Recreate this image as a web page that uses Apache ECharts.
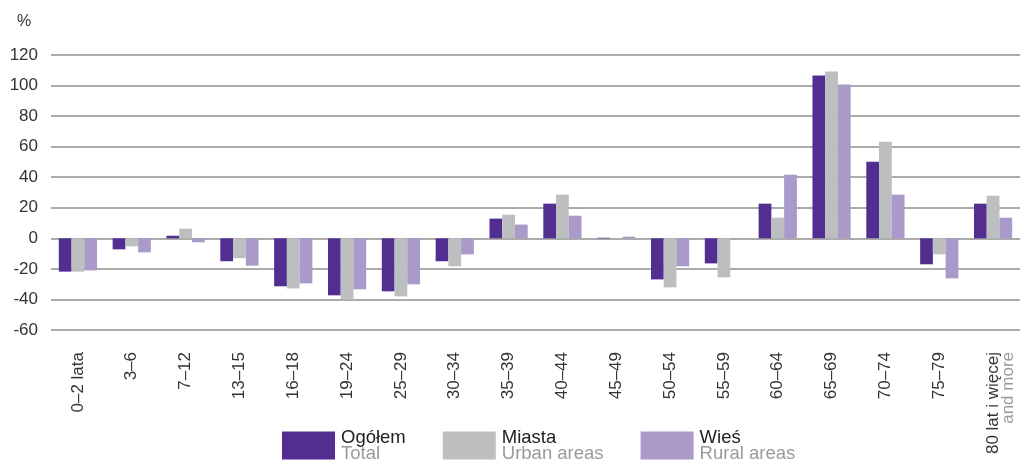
<!DOCTYPE html>
<html>
<head>
<meta charset="utf-8">
<script src="https://cdn.jsdelivr.net/npm/echarts@6/dist/echarts.min.js"></script>
<style>
  html, body { margin: 0; padding: 0; background: #fff; }
  #main { width: 1026px; height: 464px; }
</style>
</head>
<body>
<div id="main"></div>
<script>
var chart = echarts.init(document.getElementById('main'));

// age groups (x axis)
var ageGroups = ['0–2 lata', '3–6', '7–12', '13–15', '16–18', '19–24', '25–29', '30–34', '35–39',
  '40–44', '45–49', '50–54', '55–59', '60–64', '65–69', '70–74', '75–79', '80 lat i więcej'];

// series values, %
var total = [-21.8, -7.2, 1.7, -15, -31.4, -37.3, -34.7, -15, 12.9, 22.7, 0.4, -26.9, -16.4, 22.7, 106.6, 50.2, -17, 22.7];
var urban = [-21.8, -5.2, 6.3, -13, -32.8, -40, -38, -18.3, 15.5, 28.6, 0, -32.1, -25.5, 13.5, 109.2, 63.3, -10.5, 27.9];
var rural = [-21, -9.2, -2.6, -17.9, -29.5, -33.4, -30.1, -10.5, 9, 14.8, 1.1, -18.3, null, 41.7, 100.7, 28.6, -26.2, 13.5];

var seriesNames = ['Ogółem', 'Miasta', 'Wieś'];
var seriesNamesEn = ['Total', 'Urban areas', 'Rural areas'];
var colors = ['#522E91', '#BDBEC0', '#A99AC9'];

function makeBar(i, values) {
  return {
    name: seriesNames[i],
    type: 'bar',
    data: values,
    barGap: '0%',
    barCategoryGap: '29%',
    itemStyle: { color: colors[i] }
  };
}

var option = {
  animation: false,
  textStyle: { fontFamily: 'Liberation Sans, Arial, sans-serif' },
  title: {
    text: '%',
    left: 12,
    top: 9,
    textStyle: { fontSize: 16, fontWeight: 'normal', color: '#333' }
  },
  grid: { left: 51, right: 6, top: 55, bottom: 134, containLabel: false },
  legend: {
    left: 277,
    top: 423,
    itemWidth: 53,
    itemHeight: 28,
    itemGap: 37,
    icon: 'rect',
    selectedMode: false,
    data: seriesNames,
    formatter: function (name) {
      var i = seriesNames.indexOf(name);
      return '{a|' + name + '}\n{b|' + seriesNamesEn[i] + '}';
    },
    textStyle: {
      padding: [0, 0, 0, 1],
      rich: {
        a: { fontFamily: 'Liberation Sans Narrow, Arial Narrow, sans-serif', fontSize: 18.5, color: '#222', lineHeight: 16 },
        b: { fontFamily: 'Liberation Sans Narrow, Arial Narrow, sans-serif', fontSize: 18.5, color: '#9a9a9a', lineHeight: 16 }
      }
    }
  },
  xAxis: {
    type: 'category',
    data: ageGroups,
    axisLine: { show: false, onZero: false },
    axisTick: { show: false },
    axisLabel: {
      rotate: 90,
      margin: 22,
      interval: 0,
      fontSize: 17,
      color: '#333',
      formatter: function (v) {
        // leading empty line nudges the two-line label to the right of the tick
        if (v === '80 lat i więcej') return '{e| }\n{m|' + v + '}\n{g|and more}';
        return v;
      },
      rich: {
        e: { fontSize: 10, lineHeight: 15 },
        m: { fontSize: 17, color: '#333', lineHeight: 15 },
        g: { fontSize: 17, color: '#9a9a9a', lineHeight: 15 }
      }
    }
  },
  yAxis: {
    type: 'value',
    min: -60,
    max: 120,
    interval: 20,
    axisLine: { show: false },
    axisTick: { show: false },
    axisLabel: { fontSize: 17, color: '#333', margin: 13 },
    splitLine: { lineStyle: { color: '#8f8f8f', width: 1.5 } }
  },
  series: [makeBar(0, total), makeBar(1, urban), makeBar(2, rural)]
};

chart.setOption(option);
</script>
</body>
</html>
